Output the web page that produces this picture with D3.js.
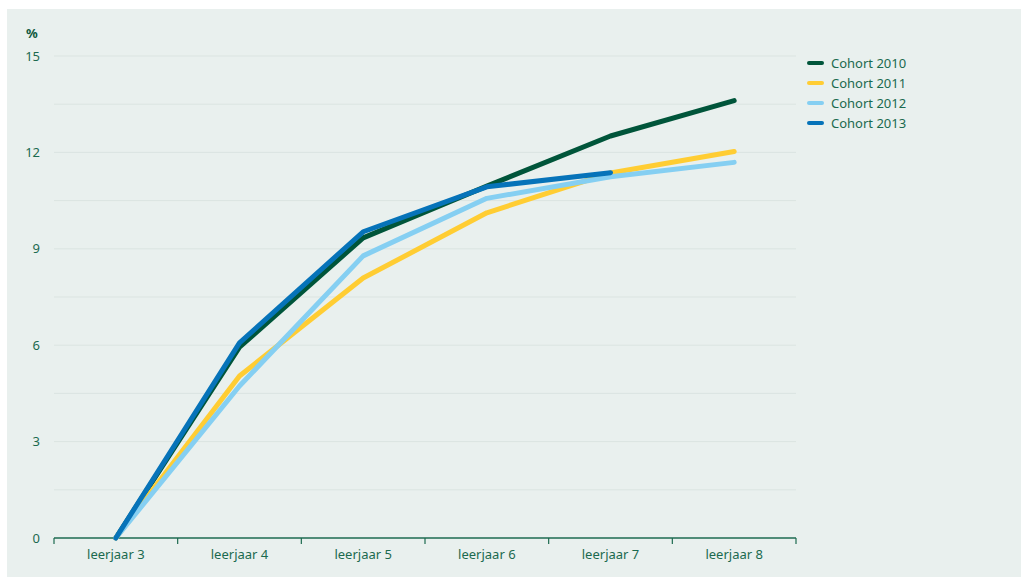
<!DOCTYPE html>
<html>
<head>
<meta charset="utf-8">
<script src="https://cdn.jsdelivr.net/npm/d3@7"></script>
<style>
  body { margin: 0; background: #fff; }
  svg { display: block; font-family: "Noto Sans", "Open Sans", sans-serif; }
</style>
</head>
<body>
<div id="chart"></div>
<script>
// categorieën en reeksen
const leerjaren = ["leerjaar 3", "leerjaar 4", "leerjaar 5", "leerjaar 6", "leerjaar 7", "leerjaar 8"]
const cohort2010 = [0, 5.94, 9.34, 10.95, 12.51, 13.61]
const cohort2011 = [0, 5.04, 8.09, 10.12, 11.36, 12.03]
const cohort2012 = [0, 4.73, 8.78, 10.57, 11.24, 11.69]
const cohort2013 = [0, 6.07, 9.53, 10.93, 11.37]
const yTicks = [0, 3, 6, 9, 12, 15]

const series = [
  {naam: "Cohort 2010", waarden: cohort2010, kleur: "#00553a"},
  {naam: "Cohort 2011", waarden: cohort2011, kleur: "#ffcd33"},
  {naam: "Cohort 2012", waarden: cohort2012, kleur: "#85cff2"},
  {naam: "Cohort 2013", waarden: cohort2013, kleur: "#0673b9"}
]

const W = 1021, H = 577
const tekstKleur = "#1b6a4f"

const svg = d3.select("#chart").append("svg")
  .attr("width", W)
  .attr("height", H)

// achtergrond
svg.append("rect")
  .attr("x", 7).attr("y", 9)
  .attr("width", W - 7).attr("height", H - 9)
  .attr("fill", "#e9f0ee")

const x = d3.scaleBand()
  .domain(leerjaren)
  .range([54, 796])

const y = d3.scaleLinear()
  .domain([0, 15])
  .range([538, 56])

// rasterlijnen (elke 1,5)
const grid = d3.range(1.5, 15.01, 1.5)
svg.append("g")
  .selectAll("line")
  .data(grid)
  .join("line")
  .attr("x1", 54).attr("x2", 796)
  .attr("y1", d => y(d)).attr("y2", d => y(d))
  .attr("stroke", "#dbe4e1")
  .attr("stroke-width", 1)

// y-as labels
svg.append("g")
  .selectAll("text")
  .data(yTicks)
  .join("text")
  .attr("x", 40)
  .attr("y", d => y(d))
  .attr("dy", "0.35em")
  .attr("text-anchor", "end")
  .attr("font-size", 13)
  .attr("fill", tekstKleur)
  .text(d => d)

svg.append("text")
  .attr("x", 26).attr("y", 38)
  .attr("font-size", 13)
  .attr("font-weight", "bold")
  .attr("fill", "#0f5a40")
  .text("%")

// x-as
const xAxis = svg.append("g")
  .attr("transform", "translate(0," + y(0) + ")")
  .call(d3.axisBottom(x).tickSize(0).tickPadding(12))
xAxis.select(".domain").remove()
xAxis.selectAll("text")
  .attr("font-size", 13)
  .attr("font-family", "Noto Sans, sans-serif")
  .attr("fill", tekstKleur)

xAxis.append("line")
  .attr("x1", 54).attr("x2", 796)
  .attr("stroke", "#1d6b50").attr("stroke-width", 1.5)
const grenzen = leerjaren.map(d => x(d)).concat([x.range()[1]])
xAxis.selectAll("line.tick-grens")
  .data(grenzen)
  .join("line")
  .attr("class", "tick-grens")
  .attr("x1", d => d).attr("x2", d => d)
  .attr("y1", 0).attr("y2", 6)
  .attr("stroke", "#1d6b50").attr("stroke-width", 1.2)

// lijnen
const line = d3.line()
  .x((d, i) => x(leerjaren[i]) + x.bandwidth() / 2)
  .y(d => y(d))

svg.append("g")
  .selectAll("path")
  .data(series)
  .join("path")
  .attr("d", d => line(d.waarden))
  .attr("fill", "none")
  .attr("stroke", d => d.kleur)
  .attr("stroke-width", 5)
  .attr("stroke-linecap", "round")
  .attr("stroke-linejoin", "round")

// legenda
const legend = svg.append("g")
  .selectAll("g")
  .data(series)
  .join("g")
  .attr("transform", (d, i) => "translate(808," + (63 + i * 20) + ")")
legend.append("line")
  .attr("x1", 1).attr("x2", 14)
  .attr("stroke", d => d.kleur)
  .attr("stroke-width", 4)
  .attr("stroke-linecap", "round")
legend.append("text")
  .attr("x", 23)
  .attr("dy", "0.35em")
  .attr("font-size", 13)
  .attr("fill", tekstKleur)
  .text(d => d.naam)
</script>
</body>
</html>
